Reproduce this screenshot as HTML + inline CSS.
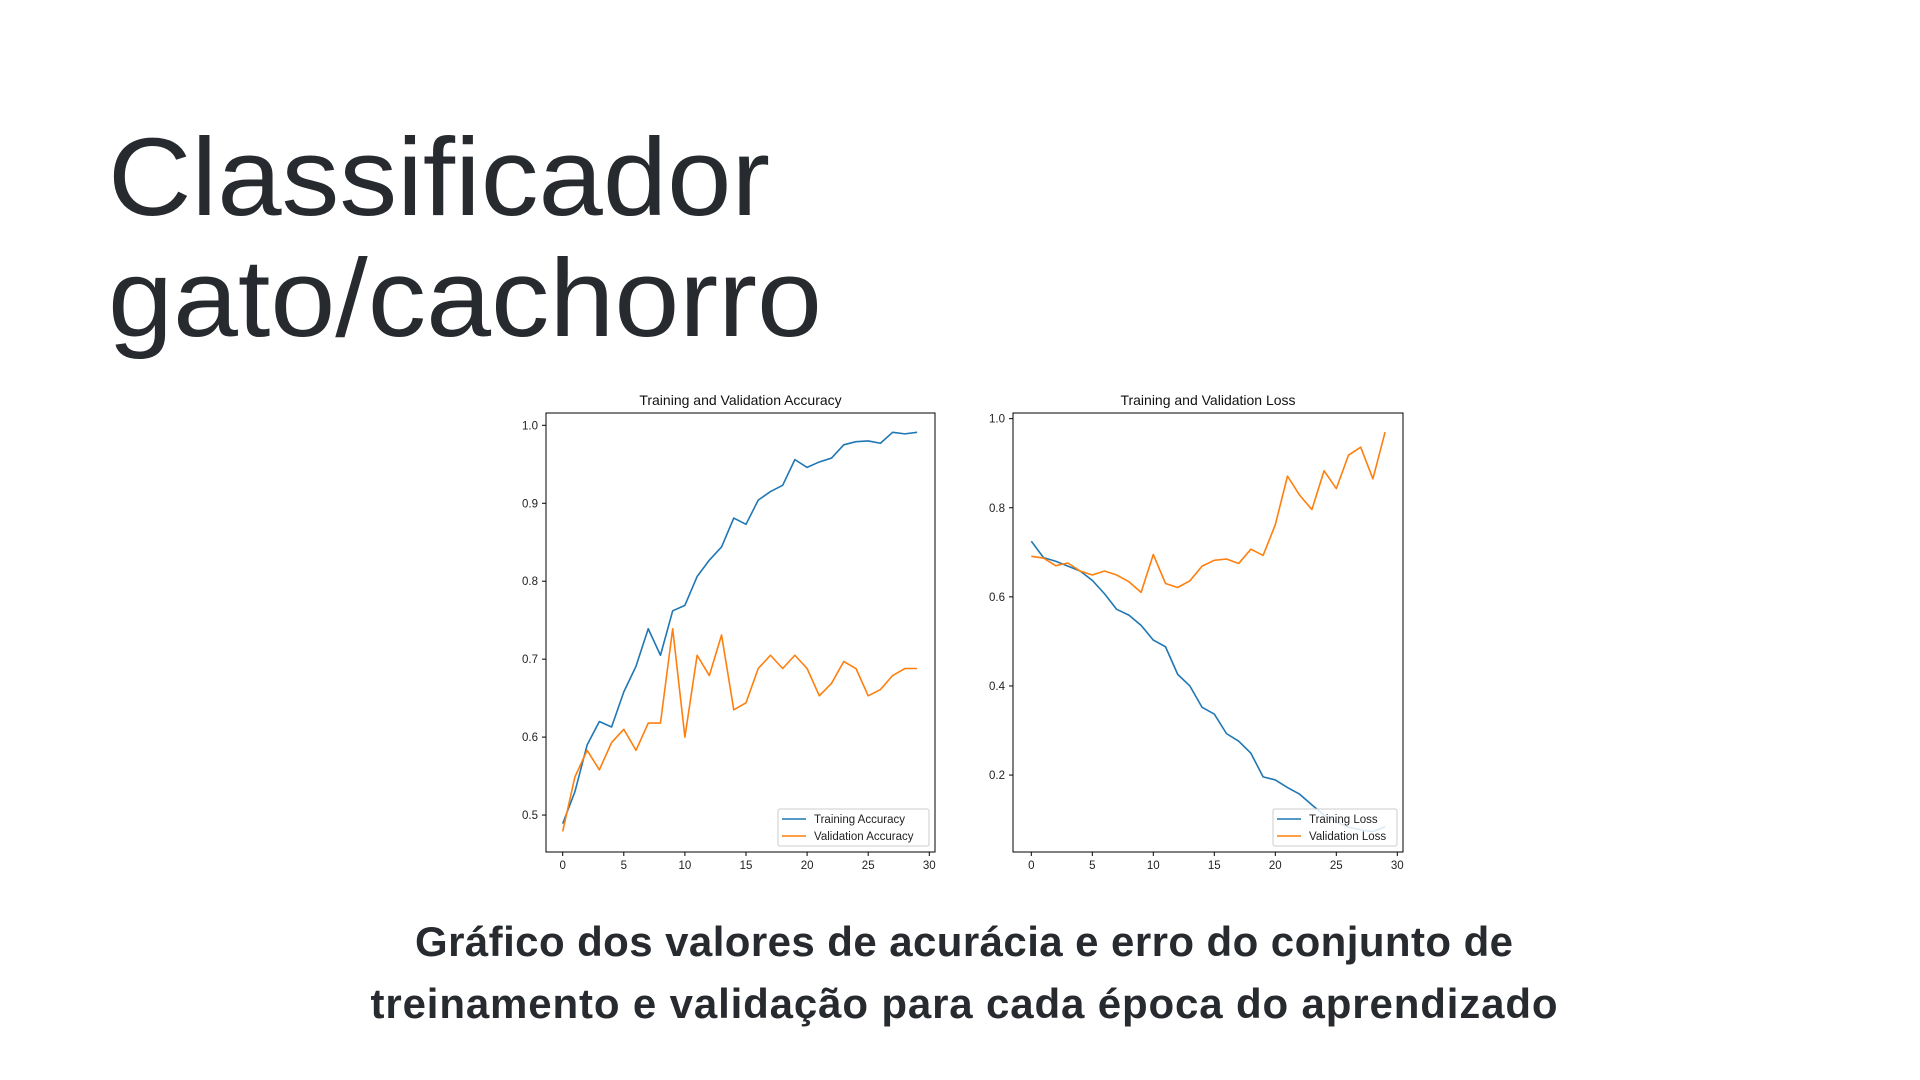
<!DOCTYPE html>
<html><head><meta charset="utf-8"><style>
html,body{margin:0;padding:0;background:#fff;width:1920px;height:1080px;overflow:hidden}
svg{display:block}
</style></head><body>
<svg id="root" width="1920" height="1080" viewBox="0 0 1920 1080">
<text x="108" y="215" font-family="Liberation Sans, sans-serif" font-size="110" fill="#272a2e" textLength="662" lengthAdjust="spacingAndGlyphs">Classificador</text>
<text x="108" y="336" font-family="Liberation Sans, sans-serif" font-size="110" fill="#272a2e" textLength="714" lengthAdjust="spacingAndGlyphs">gato/cachorro</text>
<g id="acc"></g>
<g id="loss"></g>
<text x="964" y="956" text-anchor="middle" font-family="Liberation Sans, sans-serif" font-weight="bold" font-size="42" fill="#272a2e" textLength="1098">Gráfico dos valores de acurácia e erro do conjunto de</text>
<text x="964" y="1018" text-anchor="middle" font-family="Liberation Sans, sans-serif" font-weight="bold" font-size="42" fill="#272a2e" textLength="1187">treinamento e validação para cada época do aprendizado</text>
</svg>
<script>
const epochs = [0,1,2,3,4,5,6,7,8,9,10,11,12,13,14,15,16,17,18,19,20,21,22,23,24,25,26,27,28,29];
const trainAcc = [0.489,0.53,0.59,0.62,0.613,0.658,0.691,0.739,0.705,0.762,0.769,0.806,0.827,0.844,0.881,0.873,0.904,0.915,0.923,0.956,0.946,0.953,0.958,0.975,0.979,0.980,0.977,0.991,0.989,0.991];
const valAcc = [0.479,0.549,0.583,0.558,0.593,0.610,0.583,0.618,0.618,0.739,0.600,0.705,0.679,0.731,0.635,0.644,0.688,0.705,0.688,0.705,0.688,0.653,0.669,0.697,0.688,0.653,0.661,0.679,0.688,0.688];
const trainLoss = [0.725,0.688,0.680,0.669,0.658,0.637,0.607,0.572,0.559,0.536,0.503,0.488,0.426,0.400,0.352,0.337,0.293,0.276,0.249,0.196,0.189,0.172,0.157,0.133,0.110,0.095,0.083,0.077,0.073,0.084];
const valLoss = [0.691,0.687,0.670,0.676,0.658,0.649,0.658,0.649,0.634,0.610,0.695,0.630,0.621,0.636,0.669,0.682,0.685,0.675,0.707,0.693,0.762,0.871,0.828,0.796,0.883,0.843,0.918,0.936,0.865,0.970];
const xTicks = [0,5,10,15,20,25,30];
const accYTicks = [0.5,0.6,0.7,0.8,0.9,1.0];
const lossYTicks = [0.2,0.4,0.6,0.8,1.0];

const NS='http://www.w3.org/2000/svg';
function mk(tag,attrs,parent){const e=document.createElementNS(NS,tag);for(const k in attrs)e.setAttribute(k,attrs[k]);parent.appendChild(e);return e;}
const F='Liberation Sans, DejaVu Sans, sans-serif';

function chart(g,cfg){
  const {L,R,T,B,x0px,x30px,ymin,ymax,title,yTicks,series,leg} = cfg;
  const sx=v=>x0px+(x30px-x0px)*v/30;
  const sy=v=>B-(B-T)*(v-ymin)/(ymax-ymin);
  const t=mk('text',{x:(L+R)/2,y:T-8,'text-anchor':'middle','font-family':F,'font-size':14,fill:'#111'},g);
  t.textContent=title;
  
  
  xTicks.forEach(v=>{
    const x=sx(v);
    const tk=mk('line',{x1:x,x2:x,y1:B,y2:B+4,stroke:'#000','stroke-width':1},g);
    
    
    const l=mk('text',{x:x,y:B+17,'text-anchor':'middle','font-family':F,'font-size':11.5,fill:'#222'},g);
    l.textContent=String(v);
    
    
  });
  yTicks.forEach(v=>{
    const y=sy(v);
    const tk=mk('line',{x1:L-4,x2:L,y1:y,y2:y,stroke:'#000','stroke-width':1},g);
    
    
    const l=mk('text',{x:L-8,y:y+4,'text-anchor':'end','font-family':F,'font-size':11.5,fill:'#222'},g);
    l.textContent=v.toFixed(1);
    
    
  });
  series.forEach(s=>{
    const p=mk('polyline',{points:s.data.map((v,i)=>sx(epochs[i])+','+sy(v)).join(' '),fill:'none',stroke:s.color,'stroke-width':1.6,'stroke-linejoin':'round'},g);
    
    
  });
  const fr=mk('rect',{x:L,y:T,width:R-L,height:B-T,fill:'none',stroke:'#000','stroke-width':1},g);
  
  
  const lg=mk('rect',{x:leg[0],y:leg[1],width:leg[2],height:leg[3],fill:'#fff','fill-opacity':0.85,stroke:'#ccc','stroke-width':1,rx:2},g);
  
  
  series.forEach((s,i)=>{
    const y=leg[1]+10+i*17;
    const ln=mk('line',{x1:leg[0]+4,x2:leg[0]+28,y1:y,y2:y,stroke:s.color,'stroke-width':1.6},g);
    
    
    const tx=mk('text',{x:leg[0]+36,y:y+4,'font-family':F,'font-size':11.5,fill:'#222'},g);
    tx.textContent=s.label;
    
    
  });
}
chart(document.getElementById('acc'),{L:546,R:935,T:413,B:852,x0px:562.7,x30px:929.3,ymin:0.4526,ymax:1.0158,
  title:'Training and Validation Accuracy',yTicks:accYTicks,
  series:[{data:trainAcc,color:'#1f77b4',label:'Training Accuracy',name:'training-accuracy-line'},{data:valAcc,color:'#ff7f0e',label:'Validation Accuracy',name:'validation-accuracy-line'}],
  leg:[778,809,151,37]});
chart(document.getElementById('loss'),{L:1013,R:1403,T:413,B:852,x0px:1031.3,x30px:1397.3,ymin:0.0273,ymax:1.0127,
  title:'Training and Validation Loss',yTicks:lossYTicks,
  series:[{data:trainLoss,color:'#1f77b4',label:'Training Loss',name:'training-loss-line'},{data:valLoss,color:'#ff7f0e',label:'Validation Loss',name:'validation-loss-line'}],
  leg:[1273,809,124,37]});
</script>
</body></html>
